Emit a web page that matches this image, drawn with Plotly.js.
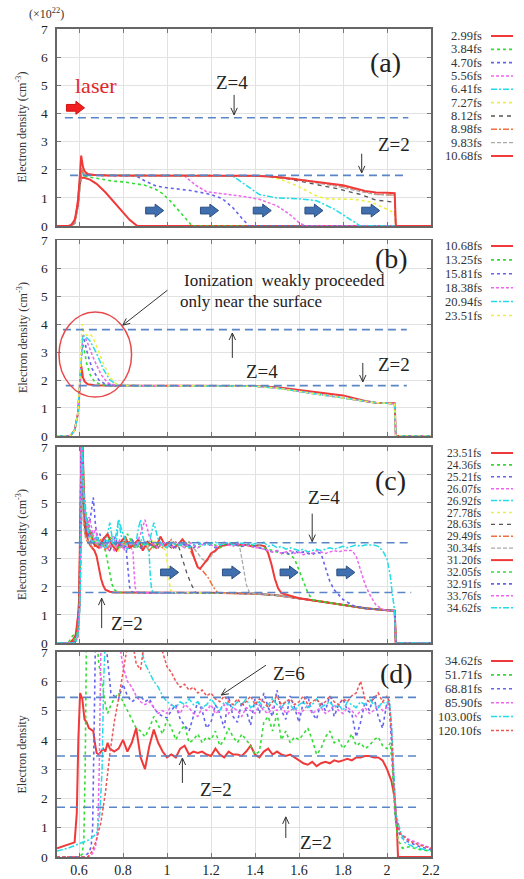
<!DOCTYPE html>
<html><head><meta charset="utf-8">
<script src="https://cdn.plot.ly/plotly-3.0.1.min.js"></script>
<style>html,body{margin:0;padding:0;background:#fff}#chart{width:524px;height:879px}</style>
</head><body><div id="chart"></div>
<script>
// ---------------- DATA ----------------
const labelsA = ['2.99fs','3.84fs','4.70fs','5.56fs','6.41fs','7.27fs','8.12fs','8.98fs','9.83fs','10.68fs'];
const labelsB = ['10.68fs','13.25fs','15.81fs','18.38fs','20.94fs','23.51fs'];
const labelsC = ['23.51fs','24.36fs','25.21fs','26.07fs','26.92fs','27.78fs','28.63fs','29.49fs','30.34fs','31.20fs','32.05fs','32.91fs','33.76fs','34.62fs'];
const labelsD = ['34.62fs','51.71fs','68.81fs','85.90fs','103.00fs','120.10fs'];

const zLevelsA = [3.85, 1.8];
const zLevelsB = [3.8, 1.8];
const zLevelsC = [3.58, 1.8];
const zLevelsD = [5.45, 3.45, 1.7];

// Panel (a)
const xA299 = [0.5,0.55,0.57,0.585,0.595,0.603,0.61,0.62,0.65,0.68,0.72,0.76,0.8,0.83,0.865,2.2];
const yA299 = [0,0,0.05,0.3,0.9,1.5,1.7,1.72,1.65,1.5,1.2,0.85,0.5,0.22,0,0];
const xA384 = [0.5,0.56,0.58,0.595,0.605,0.612,0.62,0.66,0.7,0.75,0.8,0.85,0.9,0.95,0.98,1.02,1.06,1.09,1.115,2.2];
const yA384 = [0,0,0.1,0.7,1.5,1.85,1.78,1.72,1.66,1.6,1.57,1.52,1.45,1.3,1.15,0.85,0.5,0.2,0,0];
const xA470 = [0.5,0.56,0.58,0.595,0.605,0.612,0.62,0.65,0.7,0.8,0.86,0.9,0.95,1.0,1.05,1.1,1.15,1.2,1.25,1.3,1.34,1.373,2.2];
const yA470 = [0,0,0.1,0.7,1.5,1.9,1.85,1.81,1.8,1.8,1.78,1.6,1.42,1.36,1.32,1.27,1.2,1.12,0.98,0.65,0.28,0,0];
const xA556 = [0.5,0.56,0.58,0.595,0.605,0.612,0.62,0.65,0.8,1.0,1.08,1.13,1.18,1.25,1.35,1.42,1.5,1.56,1.6,1.63,2.2];
const yA556 = [0,0,0.1,0.7,1.5,1.95,1.85,1.81,1.8,1.8,1.78,1.45,1.22,1.15,1.05,0.95,0.72,0.4,0.12,0,0];
const xA641 = [0.5,0.56,0.58,0.595,0.605,0.612,0.62,0.65,0.8,1.0,1.2,1.3,1.35,1.42,1.5,1.6,1.68,1.76,1.83,1.88,2.2];
const yA641 = [0,0,0.1,0.7,1.5,1.95,1.85,1.81,1.8,1.8,1.8,1.77,1.5,1.12,1.0,0.97,0.9,0.6,0.25,0,0];
const xA727 = [0.5,0.56,0.58,0.595,0.605,0.612,0.62,0.65,0.8,1.0,1.2,1.45,1.52,1.6,1.67,1.72,1.85,1.93,2.0,2.035,2.04,2.2];
const yA727 = [0,0,0.1,0.7,1.5,2.0,1.85,1.81,1.8,1.8,1.8,1.78,1.65,1.4,1.1,0.97,0.95,0.85,0.6,0.45,0,0];
const xA812 = [0.5,0.56,0.58,0.595,0.605,0.612,0.62,0.65,0.8,1.0,1.2,1.45,1.55,1.65,1.78,1.88,1.95,2.035,2.04,2.2];
const yA812 = [0,0,0.1,0.7,1.5,2.0,1.85,1.81,1.8,1.8,1.8,1.77,1.68,1.52,1.32,1.12,0.92,0.85,0,0];
const yA898 = [0,0,0.1,0.7,1.5,2.05,1.85,1.81,1.8,1.8,1.8,1.78,1.72,1.6,1.44,1.26,1.13,1.1,0,0];
const yA983 = [0,0,0.1,0.7,1.5,2.05,1.85,1.81,1.8,1.8,1.8,1.78,1.7,1.57,1.4,1.22,1.12,1.1,0,0];
const x1068 = [0.5,0.56,0.58,0.595,0.603,0.61,0.618,0.625,0.64,0.67,0.72,0.8,1.0,1.2,1.4,1.5,1.6,1.7,1.8,1.9,1.95,2.0,2.035,2.04,2.2];
const y1068 = [0,0,0.2,0.8,1.7,2.5,2.1,1.95,1.85,1.81,1.8,1.8,1.8,1.8,1.79,1.74,1.64,1.55,1.45,1.25,1.19,1.18,1.17,0,0];

// Panel (b)
const bTailX = [0.8,1.0,1.2,1.4,1.5,1.6,1.7,1.8,1.9,1.95,2.0,2.035,2.04,2.2];
const bTailY = [1.8,1.8,1.79,1.78,1.71,1.6,1.48,1.36,1.24,1.19,1.17,1.15,0,0];
const bX1325 = [0.5,0.56,0.58,0.595,0.605,0.615,0.625,0.635,0.65,0.67,0.7,0.74];
const bY1325 = [0,0,0.2,0.8,2.0,3.4,3.0,2.6,2.2,1.95,1.83,1.8];
const bX1581 = [0.5,0.56,0.58,0.595,0.605,0.615,0.625,0.64,0.66,0.69,0.72,0.76];
const bY1581 = [0,0,0.2,0.8,2.0,3.6,3.4,2.9,2.4,2.0,1.85,1.8];
const bX1838 = [0.5,0.56,0.58,0.595,0.605,0.617,0.63,0.645,0.67,0.7,0.73,0.77];
const bY1838 = [0,0,0.2,0.8,2.0,3.6,3.5,3.2,2.7,2.2,1.9,1.8];
const bX2094 = [0.5,0.56,0.58,0.595,0.605,0.617,0.63,0.65,0.68,0.71,0.74,0.78];
const bY2094 = [0,0,0.2,0.8,2.0,3.6,3.55,3.4,2.95,2.4,2.0,1.81];
const bX2351 = [0.5,0.56,0.58,0.595,0.605,0.614,0.622,0.635,0.65,0.665,0.68,0.71,0.74,0.77];
const bY2351 = [0,0,0.2,0.8,2.2,4.0,3.7,3.6,3.65,3.5,3.2,2.6,2.1,1.85];

// Panel (c)
const cBaseX = [0.8,0.9,1.0,1.1,1.2,1.3,1.4,1.5,1.6,1.7,1.8,1.9,2.0,2.035,2.04,2.2];
const cBaseY = [1.8,1.79,1.8,1.79,1.79,1.78,1.76,1.7,1.6,1.48,1.36,1.24,1.17,1.15,0,0];
const gridC = [0.64,0.66,0.68,0.70,0.72,0.74,0.76,0.78,0.80,0.82,0.84,0.86,0.88,0.90,0.92,0.94,0.96,0.98,1.00,1.02,
  1.04,1.06,1.08,1.10,1.12,1.14,1.16,1.18,1.20,1.22,1.24,1.26,1.28,1.30,1.32,1.34,1.36,1.38,1.40,1.42,
  1.44,1.46,1.48,1.50,1.52,1.54,1.56,1.58,1.60,1.62,1.64,1.66,1.68,1.70,1.72,1.74,1.76,1.78,1.80,1.82,
  1.84,1.86,1.88,1.90,1.92,1.94,1.96,1.98];
const cX1 = [0.5,0.56,0.575,0.59,0.6,0.607,0.612,0.62,0.63,0.64,0.65,0.66,0.67,0.68,0.69,0.70,0.71,0.72,0.74,0.76];
const cY1 = [0,0,0.15,0.3,1.5,5,7.5,5.0,4.0,3.7,3.5,3.4,3.3,3.1,2.7,2.3,2.05,1.9,1.83,1.8];
const cX2 = [0.5,0.55,0.57,0.59,0.6,0.608,0.615,0.622,0.63,0.64,0.65,0.66,0.67,0.68,0.69,0.70,0.71,0.72,0.73,0.74,0.75,0.76,0.78];
const cY2 = [0,0,0.25,0.35,1.2,4.5,7.5,4.3,4.6,4.2,3.8,4.0,3.6,3.7,3.5,3.6,3.4,3.3,2.9,2.4,2.1,1.9,1.81];
const cX3 = [0.5,0.58,0.595,0.604,0.61,0.618,0.626,0.635,0.645,0.655,0.665,0.675,0.685,0.695,0.705,0.715,0.725,0.735,0.745,0.755,0.765,0.775,0.785,0.795,0.805,0.815,0.822,0.83,0.838,0.85];
const cY3 = [0,0,0.3,1.5,7.5,5.0,4.3,3.9,4.1,4.6,5.2,4.2,3.7,3.9,3.6,3.8,3.5,3.7,3.4,3.6,3.8,3.5,3.6,3.4,3.5,3.3,2.6,2.0,1.84,1.8];
const cX4 = [0.5,0.58,0.595,0.604,0.61,0.618,0.626,0.635,0.645,0.655,0.665,0.675,0.685,0.695,0.705,0.715,0.725,0.735,0.745,0.755,0.765,0.775,0.785,0.795,0.805,0.815,0.825,0.835,0.845,0.85,0.855,0.862,0.87];
const cY4 = [0,0,0.2,1.4,7.5,6.0,4.8,3.9,4.5,4.2,3.8,4.1,3.6,3.5,3.7,3.4,3.6,3.3,3.5,3.8,3.6,3.4,3.7,3.5,3.3,3.6,3.5,3.4,3.3,2.6,2.0,1.82,1.8];
const cX5 = [0.5,0.585,0.6,0.608,0.615,0.622,0.63,0.64,0.65,0.66,0.67,0.68,0.69,0.70,0.71,0.72,0.73,0.74,0.75,0.76,0.77,0.78,0.79,0.80,0.81,0.82,0.83,0.84,0.85,0.86,0.87,0.88,0.89,0.90,0.91,0.918,0.924,0.93,0.94];
const cY5 = [0,0,0.8,3.5,7.5,5.6,4.8,4.0,3.7,3.9,3.5,3.8,3.6,3.4,3.7,3.5,3.9,4.3,3.8,3.5,3.6,4.4,3.9,3.5,3.6,3.3,3.5,3.7,3.4,3.6,4.1,4.4,3.8,3.5,3.4,3.3,2.4,1.9,1.8];
const cX6 = [0.5,0.58,0.595,0.605,0.612,0.62,0.63,0.64,0.66,0.68,0.70,0.72,0.74,0.76,0.78,0.80,0.82,0.84,0.86,0.88,0.90,0.92,0.94,0.96,0.98,0.995,1.005,1.015,1.03];
const cY6 = [0,0,0.3,1.8,7.5,4.9,3.9,3.6,3.8,3.5,3.7,3.4,3.6,3.5,3.3,3.6,3.4,3.7,3.5,3.6,3.4,3.5,3.7,3.5,3.4,3.3,2.6,1.9,1.8];
const cX7 = [0.5,0.58,0.595,0.605,0.612,0.62,0.63,0.645,0.66,0.68,0.70,0.72,0.74,0.76,0.78,0.80,0.82,0.84,0.86,0.88,0.90,0.92,0.94,0.96,0.98,1.0,1.02,1.04,1.055,1.07,1.09,1.11,1.13];
const cY7 = [0,0,0.25,1.6,7.5,4.6,3.8,3.5,3.7,3.4,3.6,3.5,3.3,3.6,3.5,3.7,3.4,3.5,3.6,3.4,3.5,3.7,3.5,3.4,3.6,3.5,3.4,3.6,3.4,3.0,2.5,2.1,1.8];
const cX8 = [0.5,0.58,0.595,0.605,0.612,0.62,0.63,0.645,0.66,0.68,0.70,0.72,0.74,0.76,0.78,0.80,0.82,0.84,0.86,0.88,0.90,0.92,0.94,0.96,0.98,1.0,1.02,1.04,1.06,1.08,1.10,1.125,1.14,1.16,1.19,1.21,1.23];
const cY8 = [0,0,0.2,1.5,7.5,4.4,3.7,3.6,3.4,3.5,3.7,3.3,3.5,3.6,3.4,3.5,3.7,3.5,3.4,3.6,3.5,3.3,3.5,3.6,3.4,3.5,3.7,3.5,3.6,3.5,3.4,3.0,2.7,2.6,2.3,2.0,1.8];
const cX9 = [0.5,0.58,0.595,0.605,0.612,0.62,0.63,0.65,0.67,0.70,0.73,0.76,0.79,0.82,0.85,0.88,0.91,0.94,0.97,1.0,1.03,1.06,1.09,1.12,1.14,1.16,1.18,1.21,1.24,1.27,1.30,1.33,1.345,1.36,1.375];
const cY9 = [0,0,0.2,1.4,7.5,4.2,3.8,3.5,3.6,3.4,3.6,3.5,3.4,3.6,3.5,3.5,3.4,3.6,3.5,3.4,3.6,3.5,3.5,3.4,3.2,3.0,2.9,3.2,3.4,3.5,3.5,3.45,2.8,2.1,1.8];
const cX10 = [0.5,0.57,0.585,0.6,0.608,0.615,0.625,0.635,0.65,0.67,0.69,0.71,0.73,0.75,0.77,0.79,0.81,0.83,0.85,0.87,0.89,0.91,0.93,0.95,0.97,0.99,1.01,1.03,1.05,1.07,1.09,1.11,1.125,1.14,1.15,1.16,1.17,1.185,1.2,1.22,1.24,1.27,1.30,1.33,1.36,1.39,1.42,1.445,1.46,1.475,1.49,1.505,1.52];
const cY10 = [0,0,0.3,1.2,4.5,7.5,4.6,3.8,4.0,3.5,3.4,3.7,3.9,3.5,3.3,3.6,3.8,3.4,3.5,3.7,3.3,3.6,3.5,3.4,3.8,3.5,3.6,3.4,3.5,3.7,3.5,3.4,3.0,2.7,2.65,2.75,2.85,3.0,3.2,3.3,3.45,3.5,3.55,3.5,3.5,3.45,3.5,3.45,3.2,2.8,2.3,1.95,1.78];
const cX11h = [0.5,0.57,0.59,0.6,0.608,0.615,0.625,0.635,0.645];
const cY11h = [0,0,0.3,0.9,3.5,7.5,4.8,4.5,4.1];
const cY11p = [3.7,3.5,3.6,3.4,3.8,3.6,3.4,3.5,3.9,3.6,3.4,3.5,3.6,3.5,3.4,3.6,3.5,3.4,3.6,3.5,
  3.5,3.4,3.6,3.5,3.4,3.5,3.6,3.5,3.5,3.4,3.5,3.6,3.5,3.5,3.45,3.5,3.5,3.45,3.4,3.4,
  3.35,3.3,3.25,3.2,3.2,3.15,3.0,2.6,2.2,1.8,1.55];
const cX12h = [0.5,0.58,0.592,0.602,0.61,0.618,0.628,0.64];
const cY12h = [0,0,0.2,1.3,7.5,5.3,4.4,3.9];
const cY12p = [3.6,3.8,3.5,3.4,3.7,3.5,3.6,3.4,3.5,3.7,3.5,3.4,3.6,3.5,3.5,3.4,3.6,3.5,3.5,3.4,
  3.6,3.5,3.5,3.4,3.5,3.6,3.5,3.5,3.4,3.5,3.5,3.6,3.5,3.5,3.45,3.5,3.5,3.45,3.4,3.35,
  3.3,3.25,3.3,3.2,3.25,3.15,3.3,3.2,3.25,3.2,3.15,3.25,3.2,2.7,2.2,1.9];
const cX12f = [1.80,1.85];
const cY12f = [1.55,1.32];
const cX13h = [0.5,0.58,0.595,0.604,0.61,0.618,0.628];
const cY13h = [0,0,0.3,1.6,7.5,5.8,4.6];
const cY13p = [4.2,3.8,3.6,3.4,3.6,3.5,3.3,3.6,3.5,3.4,3.6,3.5,3.9,4.4,3.8,3.5,3.4,3.6,3.5,3.4,
  3.6,3.5,3.4,3.6,3.5,3.4,3.5,3.6,3.5,3.45,3.5,3.6,3.5,3.45,3.55,3.5,3.5,3.45,3.4,3.4,
  3.35,3.3,3.25,3.3,3.2,3.25,3.3,3.2,3.25,3.15,3.25,3.2,3.3,3.25,3.2,3.25,3.3,3.25,3.3,3.3,3.3];
const cX13f = [1.86,1.88,1.9,1.92,1.95,1.98];
const cY13f = [3.1,2.6,2.1,1.75,1.35,1.2];
const cX14h = [0.5,0.585,0.6,0.608,0.614,0.62,0.63];
const cY14h = [0,0,0.5,2.5,7.5,5.5,4.5];
const cY14p = [4.0,3.6,3.8,3.5,3.4,3.7,3.5,4.4,3.9,3.5,3.6,3.4,3.7,3.5,3.6,4.3,3.7,3.5,3.4,3.6,
  3.5,3.5,3.6,3.4,3.5,3.6,3.5,3.5,3.55,3.6,3.5,3.55,3.6,3.5,3.6,3.55,3.6,3.5,3.55,3.5,
  3.6,3.45,3.5,3.4,3.45,3.35,3.4,3.35,3.3,3.35,3.25,3.3,3.35,3.3,3.35,3.4,3.35,3.4,3.45,3.4,
  3.45,3.5,3.45,3.5,3.5,3.5,3.45];
const cX14f = [1.98,2.0,2.015,2.025,2.035,2.04,2.2];
const cY14f = [3.3,3.0,2.4,1.7,1.15,0,0];

// Panel (d)
const gridD = [0.76,0.78,0.80,0.82,0.84,0.86,0.88,0.90,0.92,0.94,0.96,0.98,1.00,1.02,1.04,1.06,1.08,1.10,1.12,1.14,
  1.16,1.18,1.20,1.22,1.24,1.26,1.28,1.30,1.32,1.34,1.36,1.38,1.40,1.42,1.44,1.46,1.48,1.50,1.52,1.54,
  1.56,1.58,1.60,1.62,1.64,1.66,1.68,1.70,1.72,1.74,1.76,1.78,1.80,1.82,1.84,1.86,1.88,1.90,1.92,1.94,
  1.96,1.98,2.00];
const dX1h = [0.5,0.54,0.58,0.59,0.597,0.605,0.615,0.625,0.635,0.645,0.655,0.665,0.672,0.68,0.69,0.70,0.71,0.72,0.73,0.74];
const dY1h = [0.3,0.4,0.5,1.5,4.0,5.6,5.4,4.7,4.6,4.4,4.35,4.3,3.9,3.55,3.5,3.6,3.7,3.6,3.9,3.7];
const dY1p = [3.6,3.7,4.0,3.6,3.9,4.4,3.4,3.0,3.8,4.35,3.9,3.6,3.4,3.5,3.4,3.7,3.8,3.5,3.6,3.55,
  3.6,3.5,3.45,3.7,3.5,3.4,3.6,3.5,3.5,3.45,3.6,3.8,3.5,3.4,3.6,3.7,3.5,3.6,3.5,3.45,
  3.5,3.4,3.3,3.2,3.15,3.25,3.1,3.2,3.25,3.2,3.3,3.25,3.3,3.35,3.3,3.4,3.4,3.45,3.45,3.4,
  3.4,3.3,3.0];
const dX1t = [2.02,2.035,2.045,2.05,2.2];
const dY1t = [2.6,2.0,1.0,0,0];
const dX2h = [0.5,0.6,0.615,0.622,0.628,0.634,0.64,0.68,0.69,0.70,0.71,0.72,0.73,0.745];
const dY2h = [0,0,0.1,0.6,3.0,7.5,7.5,7.5,6.6,6.2,5.7,5.2,4.9,5.2];
const dY2p = [5.4,5.6,5.3,5.0,4.7,4.4,4.3,4.1,4.4,4.8,4.5,4.2,4.7,4.4,4.0,4.3,4.5,3.9,4.0,4.2,
  3.9,4.1,4.0,4.3,3.8,4.0,4.4,4.1,3.9,4.2,4.0,3.8,3.5,3.6,4.6,4.8,4.3,4.9,4.0,4.3,
  3.9,4.1,4.0,4.2,4.4,4.0,3.5,3.7,4.1,4.3,3.9,4.0,3.7,3.9,4.2,3.8,3.9,3.7,3.8,4.0,
  4.1,3.8,3.7];
const dX2t = [2.015,2.025,2.035,2.05,2.07,2.1,2.15,2.2];
const dY2t = [3.9,3.0,1.5,0.6,0.3,0.35,0.25,0.2];
const dX3h = [0.5,0.62,0.645,0.655,0.662,0.668,0.675,0.72,0.735,0.745];
const dY3h = [0,0,0.15,0.35,1.0,4.0,7.5,7.5,6.3,5.6];
const dY3p = [5.5,5.4,5.9,5.5,5.3,5.4,5.5,5.3,5.4,5.1,4.9,4.8,4.75,5.0,5.2,4.7,4.5,4.3,4.8,5.3,
  5.0,4.4,4.6,5.2,4.9,4.4,5.5,4.8,4.6,5.3,5.0,4.5,5.4,4.9,5.6,5.1,4.8,5.7,5.0,4.7,
  5.5,5.1,4.6,5.3,5.5,4.9,4.7,5.3,5.0,5.5,4.8,5.2,5.4,5.0,4.9,4.1,4.6,5.3,5.0,5.5,
  4.8,4.4,5.3];
const dX3t = [2.01,2.02,2.03,2.04,2.06,2.1,2.15,2.2];
const dY3t = [5.2,4.0,2.5,1.2,0.7,0.5,0.35,0.25];
const dX4h = [0.5,0.64,0.66,0.675,0.685,0.692,0.70,0.745];
const dY4h = [0,0,0.1,0.35,0.9,3.0,7.5,7.5];
const dY4p = [7.5,7.5,6.5,6.0,5.8,5.5,5.3,5.2,5.3,5.1,4.9,5.0,4.9,5.2,5.1,4.9,5.2,5.1,4.9,4.8,
  5.1,5.0,5.2,4.9,5.0,5.2,4.9,5.1,5.0,4.8,5.1,5.0,4.9,5.2,5.0,4.9,5.1,5.0,5.2,4.9,
  5.0,5.1,4.9,5.0,5.2,4.9,5.0,5.1,4.9,5.0,5.2,5.0,4.9,5.1,5.0,4.8,5.0,5.1,4.9,5.0,
  5.2,5.0,5.1];
const dX4t = [2.01,2.02,2.03,2.04,2.06,2.1,2.15,2.2];
const dY4t = [5.3,4.5,2.8,1.3,0.8,0.6,0.45,0.3];
const dX5h = [0.5,0.55,0.6,0.65,0.68,0.695,0.705,0.712,0.72,0.745];
const dY5h = [0.2,0.3,0.45,0.6,0.8,1.5,3.0,6.0,7.5,7.5];
const dY5p = [7.5,7.5,7.5,7.5,7.5,7.5,7.2,6.6,6.3,6.0,5.8,5.5,5.3,5.2,5.1,5.3,5.2,5.4,5.2,5.3,
  5.1,5.2,5.4,5.2,5.0,5.3,5.2,5.1,5.3,5.2,5.4,5.1,5.2,5.3,5.1,5.2,5.4,5.2,5.1,5.3,
  5.2,5.0,5.2,5.3,5.1,5.2,5.4,5.1,5.2,5.3,5.1,5.2,5.0,5.3,5.2,5.1,5.3,5.2,5.4,5.2,
  5.1,5.3,5.2];
const dX5t = [2.01,2.02,2.03,2.04,2.06,2.08,2.12,2.2];
const dY5t = [5.4,4.6,3.0,1.5,0.9,0.5,0.35,0.2];
const dX6h = [0.5,0.64,0.66,0.68,0.70,0.72,0.74];
const dY6h = [0,0,0.2,0.6,1.2,2.2,3.5];
const dY6p = [4.6,5.4,6.3,7.2,7.5,6.6,6.4,7.5,7.5,7.5,7.5,7.0,6.5,6.3,6.0,5.8,5.9,5.7,5.8,5.6,
  5.7,5.5,5.6,5.4,5.3,5.5,5.3,5.2,5.4,5.2,5.3,5.5,5.2,5.4,5.3,5.1,5.3,5.5,5.2,5.3,
  5.4,5.2,5.3,5.5,5.2,5.3,5.4,5.2,5.3,5.5,5.3,5.2,5.4,5.3,5.5,5.6,6.0,5.4,5.3,5.4,
  5.6,5.3,5.5];
const dX6t = [2.01,2.02,2.03,2.04,2.06,2.1,2.15,2.2];
const dY6t = [5.3,4.3,2.6,1.4,0.8,0.55,0.4,0.3];

// ---------------- STYLE ----------------
const F = "'Liberation Serif', 'Times New Roman', Times, serif";
const S = [
  {color:'#f03a3a', dash:'solid', width:2},
  {color:'#33dd33', dash:'dot', width:1.6},
  {color:'#6464ee', dash:'dot', width:1.6},
  {color:'#ee66ee', dash:'3px,2px', width:1.5},
  {color:'#22dde8', dash:'6px,2px,2px,2px', width:1.5},
  {color:'#eeee44', dash:'dot', width:1.6},
  {color:'#555555', dash:'4px,4px', width:1.3},
  {color:'#f07040', dash:'6px,2px,2px,2px', width:1.5},
  {color:'#aaaaaa', dash:'4px,2px', width:1.3}
];
const styleD6 = {color:'#ee5555', dash:'3px,2px', width:1.5};

// ---------------- BUILD ----------------
function cat(...parts){ const out=[]; parts.forEach(p=>p.forEach(v=>out.push(v))); return out; }
function withTail(x, y, tx, ty){
  const last = x[x.length-1];
  const nx = x.slice(), ny = y.slice();
  tx.forEach((v,i)=>{ if(v>last+1e-9){ nx.push(v); ny.push(ty[i]); } });
  return [nx, ny];
}
const traces = [];
function addTrace(xy, st, k){
  const s = k>1 ? String(k) : '';
  traces.push({type:'scatter', mode:'lines', x:xy[0], y:xy[1], xaxis:'x'+s, yaxis:'y'+s,
    line:{color:st.color, width:st.width, dash:st.dash}, showlegend:false, hoverinfo:'skip'});
}
const seriesA = [[xA299,yA299],[xA384,yA384],[xA470,yA470],[xA556,yA556],[xA641,yA641],[xA727,yA727],
  [xA812,yA812],[xA812,yA898],[xA812,yA983],[x1068,y1068]];
seriesA.forEach((xy,i)=>addTrace(xy, S[i%9], 1));
const seriesB = [[x1068,y1068], withTail(bX1325,bY1325,bTailX,bTailY), withTail(bX1581,bY1581,bTailX,bTailY),
  withTail(bX1838,bY1838,bTailX,bTailY), withTail(bX2094,bY2094,bTailX,bTailY), withTail(bX2351,bY2351,bTailX,bTailY)];
seriesB.forEach((xy,i)=>addTrace(xy, S[i%9], 2));
function gridSlice(g, start, ys){ return g.slice(start, start+ys.length); }
const seriesC = [
  withTail(cX1,cY1,cBaseX,cBaseY), withTail(cX2,cY2,cBaseX,cBaseY), withTail(cX3,cY3,cBaseX,cBaseY),
  withTail(cX4,cY4,cBaseX,cBaseY), withTail(cX5,cY5,cBaseX,cBaseY), withTail(cX6,cY6,cBaseX,cBaseY),
  withTail(cX7,cY7,cBaseX,cBaseY), withTail(cX8,cY8,cBaseX,cBaseY), withTail(cX9,cY9,cBaseX,cBaseY),
  withTail(cX10,cY10,cBaseX,cBaseY),
  withTail(cat(cX11h, gridSlice(gridC,1,cY11p)), cat(cY11h, cY11p), cBaseX, cBaseY),
  withTail(cat(cX12h, gridSlice(gridC,1,cY12p), cX12f), cat(cY12h, cY12p, cY12f), cBaseX, cBaseY),
  withTail(cat(cX13h, gridSlice(gridC,0,cY13p), cX13f), cat(cY13h, cY13p, cY13f), cBaseX, cBaseY),
  [cat(cX14h, gridSlice(gridC,0,cY14p), cX14f), cat(cY14h, cY14p, cY14f)]
];
seriesC.forEach((xy,i)=>addTrace(xy, S[i%9], 3));
const seriesD = [
  [cat(dX1h, gridSlice(gridD,0,dY1p), dX1t), cat(dY1h, dY1p, dY1t)],
  [cat(dX2h, gridSlice(gridD,0,dY2p), dX2t), cat(dY2h, dY2p, dY2t)],
  [cat(dX3h, gridSlice(gridD,0,dY3p), dX3t), cat(dY3h, dY3p, dY3t)],
  [cat(dX4h, gridSlice(gridD,0,dY4p), dX4t), cat(dY4h, dY4p, dY4t)],
  [cat(dX5h, gridSlice(gridD,0,dY5p), dX5t), cat(dY5h, dY5p, dY5t)],
  [cat(dX6h, gridSlice(gridD,0,dY6p), dX6t), cat(dY6h, dY6p, dY6t)]
];
const stylesD = [S[0],S[1],S[2],S[3],S[4],styleD6];
seriesD.forEach((xy,i)=>addTrace(xy, stylesD[i], 4));

// ---------------- LAYOUT ----------------
const W=524, H=879, ML=57, MR=93, MT=29, MB=22;
const PH = H-MT-MB, PW = W-ML-MR;
const py = px => (H-MB-px)/PH;
const pxX = px => (px-ML)/PW;
const shapes = [], annotations = [];

function axX(k, showLabels){
  return {range:[0.5,2.2], anchor:'y'+(k>1?k:''), tick0:0.6, dtick:0.2, showticklabels:showLabels,
    ticks:'inside', ticklen:4, tickcolor:'#777', showline:true, mirror:'ticks', linecolor:'#666', linewidth:1.6,
    showgrid:true, gridcolor:'#e2e2e2', gridwidth:1, zeroline:false,
    tickfont:{family:F, size:14, color:'#222'}};
}
function axY(k, dom){
  return {domain:dom, range:[0,7], dtick:1, anchor:'x'+(k>1?k:''),
    ticks:'inside', ticklen:4, tickcolor:'#777', showline:true, mirror:'ticks', linecolor:'#666', linewidth:1.6,
    showgrid:true, gridcolor:'#e2e2e2', gridwidth:1, zeroline:false, ticklabelstandoff:5,
    tickfont:{family:F, size:13.5, color:'#222'}};
}
const domA=[0.762,1], domB=[0.5085,0.745], domC=[0.2585,0.4952], domD=[0,0.2476];

function zLines(levels, k, x0s, x1s){
  levels.forEach((lv,i)=>shapes.push({type:'line', xref:'x'+(k>1?k:''), yref:'y'+(k>1?k:''),
    x0:x0s[i], x1:x1s[i], y0:lv, y1:lv, line:{color:'#5a86c8', width:1.6, dash:'8px,5px'}}));
}
zLines(zLevelsA, 1, [0.536,0.559], [2.097,2.095]);
zLines(zLevelsB, 2, [0.527,0.54], [2.09,2.09]);
zLines(zLevelsC, 3, [0.58,0.57], [2.10,2.11]);
zLines(zLevelsD, 4, [0.5,0.5,0.5], [2.15,2.15,2.15]);

function blockArrow(k, cx, cy, fill, line){
  const s = k>1?String(k):'';
  const p = `M${cx-0.04},${cy-0.12} L${cx+0.003},${cy-0.12} L${cx+0.003},${cy-0.23} L${cx+0.042},${cy} L${cx+0.003},${cy+0.23} L${cx+0.003},${cy+0.12} L${cx-0.04},${cy+0.12} Z`;
  shapes.push({type:'path', xref:'x'+s, yref:'y'+s, path:p, fillcolor:fill, line:{color:line, width:1}});
}
[0.943,1.192,1.432,1.667,1.925].forEach(cx=>blockArrow(1, cx, 0.55, '#3f6fae', '#2c4f82'));
[1.011,1.292,1.554,1.812].forEach(cx=>blockArrow(3, cx, 2.52, '#3f6fae', '#2c4f82'));
blockArrow(1, 0.583, 4.2, '#f02020', '#d01010');

shapes.push({type:'circle', xref:'x2', yref:'y2', x0:0.509, x1:0.839, y0:1.39, y1:4.43, line:{color:'#e84a4a', width:1.5}});

// thin pointer arrows drawn as shapes (line + open V head)
const KX = 221, KY = {1:28.1, 2:28, 3:28, 4:29.3};
function pointer(k, xt, yt, xh, yh){
  const s = k>1?String(k):'';
  const ky = KY[k];
  const dx=(xh-xt)*KX, dy=(yh-yt)*ky, L=Math.hypot(dx,dy), ux=dx/L, uy=dy/L, nx=-uy, ny=ux;
  const hl=7, hw=3.2;
  const bx = xh-ux*hl/KX, by = yh-uy*hl/ky;
  const lx = bx+nx*hw/KX, ly = by+ny*hw/ky, rx = bx-nx*hw/KX, ry = by-ny*hw/ky;
  shapes.push({type:'path', xref:'x'+s, yref:'y'+s, path:`M${xt},${yt} L${xh},${yh}`, line:{color:'#333', width:1}});
  shapes.push({type:'path', xref:'x'+s, yref:'y'+s, path:`M${lx},${ly} L${xh},${yh} L${rx},${ry}`, line:{color:'#333', width:1}});
}
function txt(k, x, y, t, size, color, extra){
  const s = k>1?String(k):'';
  annotations.push(Object.assign({xref:'x'+s, yref:'y'+s, x, y, text:t, showarrow:false,
    xanchor:'center', yanchor:'middle', font:{family:F, size, color:color||'#222'}}, extra||{}));
}
// (a)
txt(1, 1.993, 5.8, '(a)', 28);
txt(1, 0.676, 4.98, 'laser', 22, '#e02828');
txt(1, 1.296, 5.09, 'Z=4', 19);
pointer(1, 1.305, 4.66, 1.305, 3.95);
txt(1, 2.03, 2.88, 'Z=2', 19);
pointer(1, 1.885, 2.57, 1.885, 1.89);
// (b)
txt(2, 2.02, 6.36, '(b)', 28);
txt(2, 1.07, 5.57, 'Ionization  weakly proceeded', 17, '#222', {xanchor:'left'});
txt(2, 1.048, 4.79, 'only near the surface', 17, '#222', {xanchor:'left'});
pointer(2, 1.002, 5.21, 0.799, 3.96);
txt(2, 1.432, 2.3, 'Z=4', 19);
pointer(2, 1.297, 2.79, 1.297, 3.68);
txt(2, 2.03, 2.57, 'Z=2', 19);
pointer(2, 1.89, 2.61, 1.89, 1.93);
// (c)
txt(3, 2.016, 5.82, '(c)', 28);
txt(3, 1.713, 5.21, 'Z=4', 19);
pointer(3, 1.66, 4.62, 1.66, 3.62);
txt(3, 0.817, 0.71, 'Z=2', 19);
pointer(3, 0.703, 0.53, 0.703, 1.6);
// (d)
txt(4, 2.043, 6.28, '(d)', 28);
txt(4, 1.554, 6.25, 'Z=6', 19);
pointer(4, 1.45, 6.55, 1.247, 5.53);
txt(4, 1.224, 2.32, 'Z=2', 19);
pointer(4, 1.07, 2.53, 1.07, 3.38);
txt(4, 1.676, 0.51, 'Z=2', 19);
pointer(4, 1.54, 0.65, 1.54, 1.37);

function ytitle(dom, t){
  annotations.push({xref:'paper', yref:'paper', x:pxX(22), y:(dom[0]+dom[1])/2, text:t, textangle:-90,
    xanchor:'center', yanchor:'middle', showarrow:false, font:{family:F, size:12, color:'#333'}});
}
ytitle(domA, 'Electron density (cm<sup>-3</sup>)');
ytitle(domB, 'Electron density (cm<sup>-3</sup>)');
ytitle(domC, 'Electron density (cm<sup>-3</sup>)');
ytitle(domD, 'Electron density');
annotations.push({xref:'paper', yref:'paper', x:pxX(46), y:py(14), xanchor:'center', yanchor:'middle',
  text:'(×10<sup>22</sup>)', showarrow:false, font:{family:F, size:12, color:'#333'}});

function legend(labels, styles, y0, dy, fs){
  labels.forEach((lab,i)=>{
    const yp = py(y0 + i*dy);
    annotations.push({xref:'paper', yref:'paper', x:pxX(484), y:yp, xanchor:'right', yanchor:'middle',
      text:lab, showarrow:false, font:{family:F, size:fs, color:'#333'}});
    const st = styles[i];
    shapes.push({type:'line', xref:'paper', yref:'paper', x0:pxX(491), x1:pxX(513), y0:yp, y1:yp,
      line:{color:st.color, width:st.width, dash:st.dash}});
  });
}
legend(labelsA, labelsA.map((_,i)=>S[i%9]), 36, 13.33, 12.5);
legend(labelsB, labelsB.map((_,i)=>S[i%9]), 246, 13.9, 12.5);
legend(labelsC, labelsC.map((_,i)=>S[i%9]), 453, 11.9, 11.5);
legend(labelsD, stylesD, 661, 13.9, 12.5);

const layout = {
  width:W, height:H, margin:{l:ML, r:MR, t:MT, b:MB},
  paper_bgcolor:'#ffffff', plot_bgcolor:'#ffffff', showlegend:false,
  font:{family:F},
  xaxis:axX(1,false), xaxis2:axX(2,false), xaxis3:axX(3,false), xaxis4:axX(4,true),
  yaxis:axY(1,domA), yaxis2:axY(2,domB), yaxis3:axY(3,domC), yaxis4:axY(4,domD),
  shapes, annotations
};
Plotly.newPlot('chart', traces, layout, {staticPlot:true, displayModeBar:false});
</script>
</body></html>
